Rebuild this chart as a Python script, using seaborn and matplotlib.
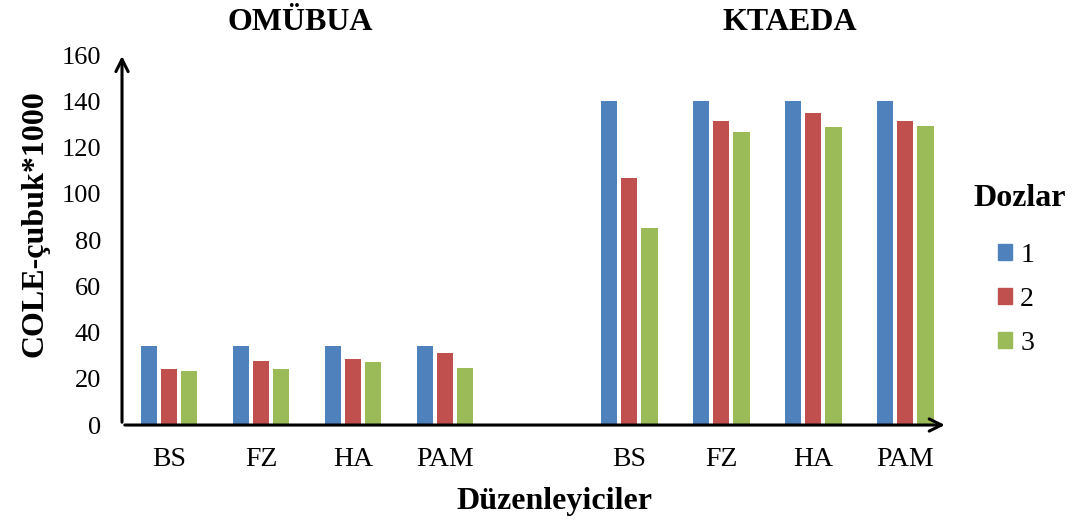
import pandas as pd
import numpy as np
import matplotlib.pyplot as plt
import seaborn as sns

# data
gruplar = ['OMÜBUA', 'KTAEDA']
duzenleyiciler = ['BS', 'FZ', 'HA', 'PAM']
dozlar = ['1', '2', '3']

omubua_1 = [34.1, 34.1, 34.1, 34.1]
omubua_2 = [24.1, 27.5, 28.4, 31.0]
omubua_3 = [23.5, 24.1, 27.2, 24.8]

ktaeda_1 = [140.0, 140.0, 140.0, 140.0]
ktaeda_2 = [107.0, 131.6, 135.0, 131.3]
ktaeda_3 = [85.0, 126.5, 128.8, 129.5]

renkler = ['#4F81BD', '#C0504D', '#9BBB59']

satirlar = []
for grup, seriler in zip(gruplar, [[omubua_1, omubua_2, omubua_3], [ktaeda_1, ktaeda_2, ktaeda_3]]):
    for d, seri in zip(dozlar, seriler):
        for k, v in zip(duzenleyiciler, seri):
            satirlar.append({'anahtar': grup + ' ' + k, 'duz': k, 'doz': d, 'deger': v})
df = pd.DataFrame(satirlar)

# one empty slot between the two groups
sira = [gruplar[0] + ' ' + k for k in duzenleyiciler] + ['bos'] + [gruplar[1] + ' ' + k for k in duzenleyiciler]

sns.set_style('white')
plt.rcParams['font.family'] = ['Liberation Serif', 'DejaVu Serif']
plt.rcParams['text.color'] = 'black'
plt.rcParams['axes.labelcolor'] = 'black'
plt.rcParams['xtick.color'] = 'black'
plt.rcParams['ytick.color'] = 'black'

fig = plt.figure(figsize=(10.75, 5.27), dpi=100)
ax = fig.add_axes([0.1135, 0.1935, 0.768, 0.7021])

sns.barplot(data=df, x='anahtar', y='deger', hue='doz', order=sira, hue_order=dozlar,
            palette=renkler, width=0.66, gap=0.2, ax=ax, legend=False, saturation=1,
            edgecolor='none')

ax.set_xlim(-0.51, 8.46)
ax.set_ylim(0, 160)
ax.set_yticks(range(0, 161, 20))
ax.set_yticklabels([str(t) for t in range(0, 161, 20)], fontsize=19)
ax.set_xticks([0, 1, 2, 3, 5, 6, 7, 8])
ax.set_xticklabels(duzenleyiciler + duzenleyiciler, fontsize=20)
ax.tick_params(axis='both', length=0)
ax.tick_params(axis='x', pad=16)
ax.tick_params(axis='y', pad=15)

for s in ax.spines.values():
    s.set_visible(False)

# axes with arrow heads
ax.annotate('', xy=(0, 1.005), xytext=(0, 0), xycoords='axes fraction',
            arrowprops=dict(arrowstyle='->', lw=2.2, color='black', mutation_scale=22),
            annotation_clip=False)
ax.annotate('', xy=(1.0, 0), xytext=(0, 0), xycoords='axes fraction',
            arrowprops=dict(arrowstyle='->', lw=2.2, color='black', mutation_scale=22),
            annotation_clip=False)

ax.set_xlabel('Düzenleyiciler', fontsize=23, fontweight='bold')
ax.set_ylabel('COLE-çubuk*1000', fontsize=23, fontweight='bold')
ax.xaxis.set_label_coords(0.524, -0.168)
ax.yaxis.set_label_coords(-0.088, 0.545)

fig.text(300 / 1075, 1 - 22 / 527, gruplar[0], fontsize=23, fontweight='bold', ha='center', va='center')
fig.text(790 / 1075, 1 - 22 / 527, gruplar[1], fontsize=23, fontweight='bold', ha='center', va='center')

# legend: title as text, entries indented under it
fig.text(973 / 1075, 1 - 198 / 527, 'Dozlar', fontsize=23, fontweight='bold', ha='left', va='center')
tutamaklar = [plt.Rectangle((0, 0), 1, 1, color=c) for c in renkler]
leg = fig.legend(tutamaklar, dozlar, loc='upper left',
                 bbox_to_anchor=(998 / 1075, 1 - 243 / 527), frameon=False, fontsize=20,
                 handlelength=0.5, handleheight=0.5, handletextpad=0.3,
                 labelspacing=0.68, borderaxespad=0, borderpad=0)

fig.savefig('out.png', dpi=100)
